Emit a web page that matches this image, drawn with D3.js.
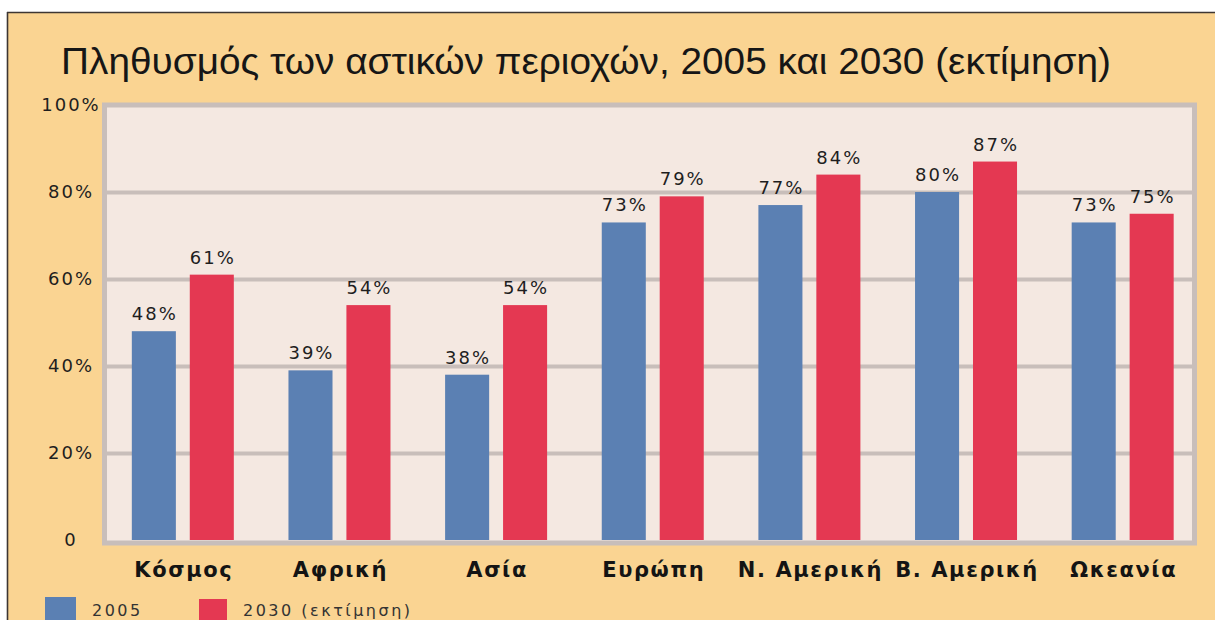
<!DOCTYPE html>
<html>
<head>
<meta charset="utf-8">
<script src="https://cdn.jsdelivr.net/npm/d3@7"></script>
<style>
  html, body { margin: 0; padding: 0; background: #ffffff; }
  svg { display: block; }
</style>
</head>
<body>
<svg id="chart" width="1215" height="620"></svg>
<script>
// ---- data ----
const titleText = "Πληθυσμός των αστικών περιοχών, 2005 και 2030 (εκτίμηση)";
const categories = ["Κόσμος", "Αφρική", "Ασία", "Ευρώπη", "Ν. Αμερική", "Β. Αμερική", "Ωκεανία"];
const seriesKeys = ["2005", "2030"];
const seriesNames = ["2005", "2030 (εκτίμηση)"];
const values2005 = [48, 39, 38, 73, 77, 80, 73];
const values2030 = [61, 54, 54, 79, 84, 87, 75];
const yTicks = [0, 20, 40, 60, 80, 100];

// ---- styles ----
const colors = { "2005": "#5b80b3", "2030": "#e43852" };
const bgOrange = "#fad492";
const plotBg = "#f4e8e1";
const frameGrey = "#c8beba";
const textDark = "#1e1e1e";

const svg = d3.select("#chart");
const W = 1215, H = 620;

// outer page background + scan border
svg.append("rect").attr("x", 0).attr("y", 0).attr("width", W).attr("height", H).attr("fill", "#ffffff");
svg.append("rect").attr("x", 7.5).attr("y", 12.5).attr("width", W).attr("height", H).attr("fill", bgOrange);
svg.append("line").attr("x1", 7).attr("x2", W).attr("y1", 12.5).attr("y2", 12.5)
   .attr("stroke", "#3d3633").attr("stroke-width", 1.6);
svg.append("line").attr("x1", 7.5).attr("x2", 7.5).attr("y1", 12).attr("y2", H)
   .attr("stroke", "#3d3633").attr("stroke-width", 1.6);

// ---- scales ----
const y = d3.scaleLinear().domain([0, 100]).range([540, 105]);
const x0 = d3.scaleBand().domain(categories).range([104.5, 1201]).paddingInner(0).paddingOuter(0);
const groupW = 102;
const x1 = d3.scaleBand().domain(seriesKeys).range([0, groupW]).paddingInner(0.24).paddingOuter(0);

const plotLeft = 104.5, plotRight = 1194.5;

// plot background
svg.append("rect")
  .attr("x", plotLeft).attr("y", y(100))
  .attr("width", plotRight - plotLeft).attr("height", y(0) - y(100) + 3)
  .attr("fill", plotBg);

// gridlines via axis
const grid = svg.append("g")
  .attr("transform", `translate(${plotLeft},0)`)
  .call(d3.axisRight(y).tickValues(yTicks.filter(t => t > 0 && t < 100))
        .tickSize(plotRight - plotLeft).tickFormat(""));
grid.select(".domain").remove();
grid.selectAll(".tick line").attr("stroke", frameGrey).attr("stroke-width", 4);

// bars
const data = categories.map((c, i) => ({ cat: c, vals: [
  { key: "2005", v: values2005[i] },
  { key: "2030", v: values2030[i] }
]}));

const groups = svg.append("g").selectAll("g")
  .data(data).join("g")
  .attr("transform", d => `translate(${x0(d.cat) + x0.bandwidth() / 2 - groupW / 2},0)`);

groups.selectAll("rect")
  .data(d => d.vals).join("rect")
  .attr("x", d => x1(d.key))
  .attr("y", d => y(d.v))
  .attr("width", x1.bandwidth())
  .attr("height", d => y(0) - y(d.v))
  .attr("fill", d => colors[d.key]);

// value labels
groups.selectAll("text")
  .data(d => d.vals).join("text")
  .attr("x", d => x1(d.key) + x1.bandwidth() / 2 + 1)
  .attr("y", d => y(d.v) - 11)
  .attr("text-anchor", "middle")
  .attr("font-family", "DejaVu Sans, sans-serif")
  .attr("font-size", 18)
  .attr("letter-spacing", "2px")
  .attr("fill", textDark)
  .text(d => d.v + "%");

// frame
svg.append("rect")
  .attr("x", plotLeft).attr("y", y(100))
  .attr("width", plotRight - plotLeft).attr("height", y(0) - y(100) + 3)
  .attr("fill", "none").attr("stroke", frameGrey).attr("stroke-width", 5);

// y axis labels
const yAxis = svg.append("g")
  .attr("transform", "translate(70,0)")
  .call(d3.axisLeft(y).tickValues(yTicks).tickSize(0).tickPadding(0)
        .tickFormat(d => d === 0 ? "0" : d + "%"));
yAxis.select(".domain").remove();
yAxis.selectAll(".tick text")
  .attr("text-anchor", "middle")
  .attr("x", 1)
  .attr("font-family", "DejaVu Sans, sans-serif")
  .attr("font-size", 18)
  .attr("letter-spacing", "2px")
  .attr("fill", textDark);

// x axis labels
const xAxis = svg.append("g")
  .attr("transform", "translate(0,562)")
  .call(d3.axisBottom(x0).tickSize(0).tickPadding(0));
xAxis.select(".domain").remove();
xAxis.selectAll(".tick text")
  .attr("y", 15)
  .attr("dy", 0)
  .attr("x", 1)
  .attr("font-family", "DejaVu Sans, sans-serif")
  .attr("font-weight", "bold")
  .attr("font-size", 21)
  .attr("letter-spacing", "1.6px")
  .attr("fill", "#141414");

// title
svg.append("text")
  .attr("x", 61).attr("y", 74)
  .attr("font-family", "Liberation Sans, Arial, sans-serif")
  .attr("font-size", 37)
  .attr("fill", "#161616")
  .attr("textLength", 1050)
  .attr("lengthAdjust", "spacingAndGlyphs")
  .text(titleText);

// legend
const legendX = [45, 199];
const legendBoxW = [31, 28];
const legend = svg.append("g");
seriesKeys.forEach((k, i) => {
  legend.append("rect")
    .attr("x", legendX[i]).attr("y", i === 0 ? 597 : 599)
    .attr("width", legendBoxW[i]).attr("height", 30)
    .attr("fill", colors[k]);
  legend.append("text")
    .attr("x", legendX[i] + legendBoxW[i] + 16).attr("y", 616)
    .attr("font-family", "DejaVu Sans, sans-serif")
    .attr("font-size", 16)
    .attr("letter-spacing", "2.5px")
    .attr("fill", "#333333")
    .text(seriesNames[i]);
});
</script>
</body>
</html>
